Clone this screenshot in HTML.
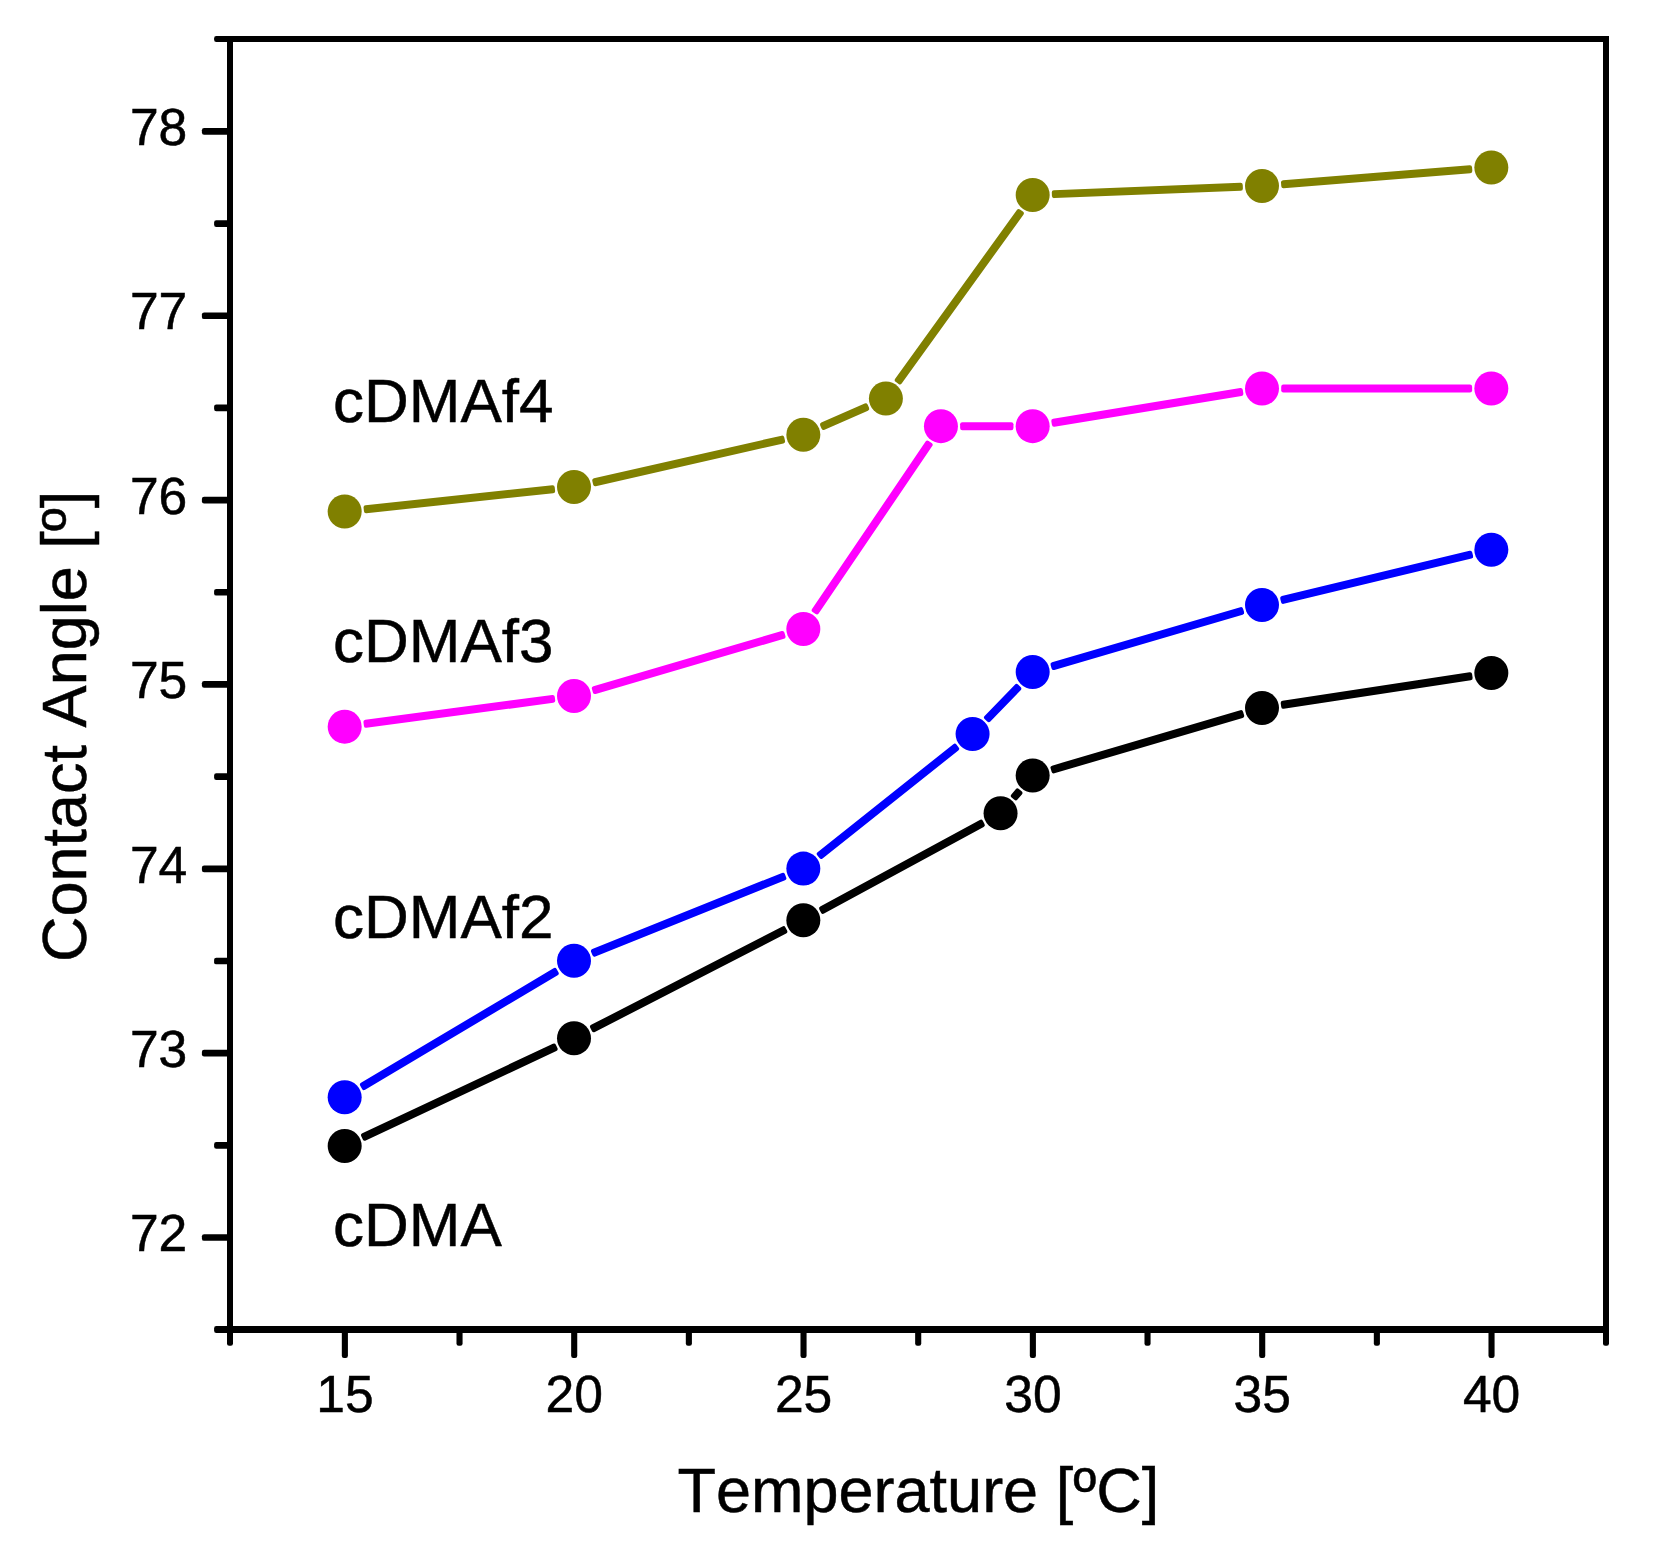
<!DOCTYPE html>
<html lang="en"><head><meta charset="utf-8"><title>Contact Angle vs Temperature</title>
<style>html,body{margin:0;padding:0;background:#fff}body{width:1658px;height:1556px;overflow:hidden}svg{display:block}text{font-family:"Liberation Sans",Arial,sans-serif;fill:#000;stroke:#000;stroke-width:0.5px;font-kerning:none;font-variant-ligatures:none}</style></head><body>
<svg width="1658" height="1556" viewBox="0 0 1658 1556">
<rect width="1658" height="1556" fill="#fff"/>
<g fill="#000">
<rect x="227" y="36" width="6" height="1297"/>
<rect x="1603" y="36" width="6" height="1297"/>
<rect x="227" y="36" width="1382" height="6"/>
<rect x="227" y="1326" width="1382" height="7"/>
</g>
<g fill="#000">
<rect x="214.10" y="1326.00" width="15.90" height="7.00" rx="2.2"/>
<rect x="201.90" y="1234.17" width="28.10" height="6.70" rx="2.2"/>
<rect x="214.10" y="1141.99" width="15.90" height="6.70" rx="2.2"/>
<rect x="201.90" y="1049.81" width="28.10" height="6.70" rx="2.2"/>
<rect x="214.10" y="957.64" width="15.90" height="6.70" rx="2.2"/>
<rect x="201.90" y="865.46" width="28.10" height="6.70" rx="2.2"/>
<rect x="214.10" y="773.28" width="15.90" height="6.70" rx="2.2"/>
<rect x="201.90" y="681.10" width="28.10" height="6.70" rx="2.2"/>
<rect x="214.10" y="588.92" width="15.90" height="6.70" rx="2.2"/>
<rect x="201.90" y="496.74" width="28.10" height="6.70" rx="2.2"/>
<rect x="214.10" y="404.56" width="15.90" height="6.70" rx="2.2"/>
<rect x="201.90" y="312.39" width="28.10" height="6.70" rx="2.2"/>
<rect x="214.10" y="220.21" width="15.90" height="6.70" rx="2.2"/>
<rect x="201.90" y="128.03" width="28.10" height="6.70" rx="2.2"/>
<rect x="214.10" y="36.00" width="15.90" height="6.00" rx="2.2"/>
<rect x="227.00" y="1329.50" width="6.00" height="16.20" rx="2.2"/>
<rect x="341.82" y="1329.50" width="6.10" height="28.40" rx="2.2"/>
<rect x="456.48" y="1329.50" width="6.10" height="16.20" rx="2.2"/>
<rect x="571.15" y="1329.50" width="6.10" height="28.40" rx="2.2"/>
<rect x="685.82" y="1329.50" width="6.10" height="16.20" rx="2.2"/>
<rect x="800.48" y="1329.50" width="6.10" height="28.40" rx="2.2"/>
<rect x="915.15" y="1329.50" width="6.10" height="16.20" rx="2.2"/>
<rect x="1029.82" y="1329.50" width="6.10" height="28.40" rx="2.2"/>
<rect x="1144.48" y="1329.50" width="6.10" height="16.20" rx="2.2"/>
<rect x="1259.15" y="1329.50" width="6.10" height="28.40" rx="2.2"/>
<rect x="1373.82" y="1329.50" width="6.10" height="16.20" rx="2.2"/>
<rect x="1488.48" y="1329.50" width="6.10" height="28.40" rx="2.2"/>
<rect x="1603.00" y="1329.50" width="6.00" height="16.20" rx="2.2"/>
</g>
<g font-size="51.6px">
<text x="187.3" y="1251.22" text-anchor="end">72</text>
<text x="187.3" y="1066.86" text-anchor="end">73</text>
<text x="187.3" y="882.51" text-anchor="end">74</text>
<text x="187.3" y="698.15" text-anchor="end">75</text>
<text x="187.3" y="513.79" text-anchor="end">76</text>
<text x="187.3" y="329.44" text-anchor="end">77</text>
<text x="187.3" y="145.08" text-anchor="end">78</text>
<text x="344.97" y="1411.7" text-anchor="middle">15</text>
<text x="574.30" y="1411.7" text-anchor="middle">20</text>
<text x="803.63" y="1411.7" text-anchor="middle">25</text>
<text x="1032.97" y="1411.7" text-anchor="middle">30</text>
<text x="1262.30" y="1411.7" text-anchor="middle">35</text>
<text x="1491.63" y="1411.7" text-anchor="middle">40</text>
</g>
<text x="677.5" y="1512" font-size="63px">Temperature [ºC]</text>
<text transform="translate(86.2 962) rotate(-90)" font-size="63px">Contact Angle [º]</text>
<g font-size="62px">
<text x="333" y="421.9">cDMAf4</text>
<text x="333" y="662.1">cDMAf3</text>
<text x="333" y="937.6">cDMAf2</text>
<text x="333" y="1246.0">cDMA</text>
</g>
<g fill="#000000">
<rect x="19.20" y="-4.00" width="215.03" height="8.00" rx="2.2" transform="translate(344.67 1146.06) rotate(-25.186)"/>
<rect x="19.20" y="-4.00" width="219.51" height="8.00" rx="2.2" transform="translate(574.00 1038.22) rotate(-27.225)"/>
<rect x="19.20" y="-4.00" width="185.95" height="8.00" rx="2.2" transform="translate(803.33 920.23) rotate(-28.464)"/>
<rect x="19.20" y="-4.00" width="11.19" height="8.00" rx="2.2" transform="translate(1000.56 813.30) rotate(-49.651)"/>
<rect x="19.20" y="-4.00" width="200.65" height="8.00" rx="2.2" transform="translate(1032.67 775.51) rotate(-16.395)"/>
<rect x="19.20" y="-4.00" width="193.59" height="8.00" rx="2.2" transform="translate(1262.00 708.03) rotate(-8.684)"/>
<circle cx="344.67" cy="1146.06" r="17.0"/>
<circle cx="574.00" cy="1038.22" r="17.0"/>
<circle cx="803.33" cy="920.23" r="17.0"/>
<circle cx="1000.56" cy="813.30" r="17.0"/>
<circle cx="1032.67" cy="775.51" r="17.0"/>
<circle cx="1262.00" cy="708.03" r="17.0"/>
<circle cx="1491.33" cy="673.00" r="17.0"/>
</g>
<g fill="#0000ff">
<rect x="19.20" y="-4.00" width="228.44" height="8.00" rx="2.2" transform="translate(344.67 1097.21) rotate(-30.747)"/>
<rect x="19.20" y="-4.00" width="208.77" height="8.00" rx="2.2" transform="translate(574.00 960.79) rotate(-21.897)"/>
<rect x="19.20" y="-4.00" width="177.83" height="8.00" rx="2.2" transform="translate(803.33 868.61) rotate(-38.491)"/>
<rect x="19.20" y="-4.00" width="47.90" height="8.00" rx="2.2" transform="translate(972.58 734.03) rotate(-45.873)"/>
<rect x="19.20" y="-4.00" width="200.55" height="8.00" rx="2.2" transform="translate(1032.67 672.08) rotate(-16.310)"/>
<rect x="19.20" y="-4.00" width="197.51" height="8.00" rx="2.2" transform="translate(1262.00 604.98) rotate(-13.559)"/>
<circle cx="344.67" cy="1097.21" r="17.0"/>
<circle cx="574.00" cy="960.79" r="17.0"/>
<circle cx="803.33" cy="868.61" r="17.0"/>
<circle cx="972.58" cy="734.03" r="17.0"/>
<circle cx="1032.67" cy="672.08" r="17.0"/>
<circle cx="1262.00" cy="604.98" r="17.0"/>
<circle cx="1491.33" cy="549.67" r="17.0"/>
</g>
<g fill="#ff00ff">
<rect x="19.20" y="-4.00" width="192.97" height="8.00" rx="2.2" transform="translate(344.67 726.65) rotate(-7.601)"/>
<rect x="19.20" y="-4.00" width="200.55" height="8.00" rx="2.2" transform="translate(574.00 696.05) rotate(-16.310)"/>
<rect x="19.20" y="-4.00" width="206.67" height="8.00" rx="2.2" transform="translate(803.33 628.94) rotate(-55.842)"/>
<rect x="19.20" y="-4.00" width="53.33" height="8.00" rx="2.2" transform="translate(940.93 426.15) rotate(0.000)"/>
<rect x="19.20" y="-4.00" width="194.00" height="8.00" rx="2.2" transform="translate(1032.67 426.15) rotate(-9.313)"/>
<rect x="19.20" y="-4.00" width="190.93" height="8.00" rx="2.2" transform="translate(1262.00 388.54) rotate(0.000)"/>
<circle cx="344.67" cy="726.65" r="17.0"/>
<circle cx="574.00" cy="696.05" r="17.0"/>
<circle cx="803.33" cy="628.94" r="17.0"/>
<circle cx="940.93" cy="426.15" r="17.0"/>
<circle cx="1032.67" cy="426.15" r="17.0"/>
<circle cx="1262.00" cy="388.54" r="17.0"/>
<circle cx="1491.33" cy="388.54" r="17.0"/>
</g>
<g fill="#808000">
<rect x="19.20" y="-4.00" width="192.24" height="8.00" rx="2.2" transform="translate(344.67 511.51) rotate(-6.103)"/>
<rect x="19.20" y="-4.00" width="196.79" height="8.00" rx="2.2" transform="translate(574.00 486.99) rotate(-12.817)"/>
<rect x="19.20" y="-4.00" width="51.80" height="8.00" rx="2.2" transform="translate(803.33 434.81) rotate(-23.745)"/>
<rect x="19.20" y="-4.00" width="212.53" height="8.00" rx="2.2" transform="translate(885.89 398.50) rotate(-54.203)"/>
<rect x="19.20" y="-4.00" width="191.11" height="8.00" rx="2.2" transform="translate(1032.67 194.97) rotate(-2.256)"/>
<rect x="19.20" y="-4.00" width="191.67" height="8.00" rx="2.2" transform="translate(1262.00 185.93) rotate(-4.596)"/>
<circle cx="344.67" cy="511.51" r="17.0"/>
<circle cx="574.00" cy="486.99" r="17.0"/>
<circle cx="803.33" cy="434.81" r="17.0"/>
<circle cx="885.89" cy="398.50" r="17.0"/>
<circle cx="1032.67" cy="194.97" r="17.0"/>
<circle cx="1262.00" cy="185.93" r="17.0"/>
<circle cx="1491.33" cy="167.50" r="17.0"/>
</g>
</svg></body></html>
